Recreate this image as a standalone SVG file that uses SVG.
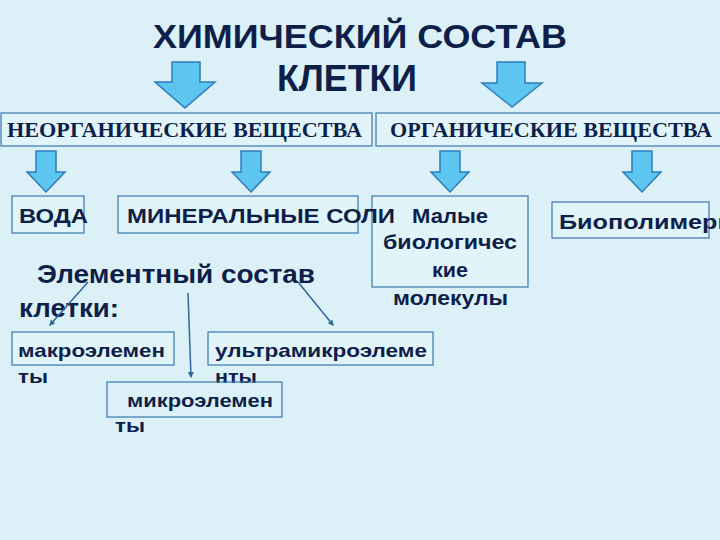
<svg xmlns="http://www.w3.org/2000/svg" width="720" height="540" viewBox="0 0 720 540">
<style>
.bg{fill:#dbf1f7}
.box{fill:#e1f4f9;stroke:#3a76ad;stroke-width:1.2}
.boxo{fill:none;stroke:#3a76ad;stroke-width:1.2}
.arr{fill:#5cc5f0;stroke:#2f7cba;stroke-width:1.5;stroke-linejoin:miter}
.t{font-family:"Liberation Sans",Arial,sans-serif;font-weight:bold;fill:#0e1f4a}
.tm{font-family:"Liberation Serif","Times New Roman",serif;font-weight:bold;fill:#0e1f4a}
.ln{stroke:#2d679c;stroke-width:1.5;fill:none}
</style>
<defs>
<marker id="ah" viewBox="0 0 10 10" refX="8" refY="5" markerWidth="4" markerHeight="4" orient="auto">
<path d="M0,0 L10,5 L0,10 z" fill="#2d679c"/>
</marker>
</defs>
<rect class="bg" x="0" y="0" width="720" height="540"/>

<g id="title">
<text class="t" x="360" y="48" font-size="34" text-anchor="middle" textLength="414" lengthAdjust="spacingAndGlyphs" fill="#0b2256">ХИМИЧЕСКИЙ СОСТАВ</text>
<text class="t" x="347" y="91" font-size="36" text-anchor="middle" textLength="140" lengthAdjust="spacingAndGlyphs" fill="#0b2256">КЛЕТКИ</text>
</g>

<g id="big-arrows">
<path class="arr" d="M172,62 H200 V82 H215 L185,108 L155,82 H172 Z"/>
<path class="arr" d="M497,62 H525 V83 H542 L512,107 L482,83 H497 Z"/>
</g>

<g id="inorganic">
<rect class="box" x="1" y="113" width="371" height="33"/>
<text class="tm" x="7" y="137" font-size="21" textLength="355" lengthAdjust="spacingAndGlyphs">НЕОРГАНИЧЕСКИЕ ВЕЩЕСТВА</text>
</g>
<g id="organic">
<rect class="box" x="376" y="113" width="350" height="33"/>
<text class="tm" x="390" y="137" font-size="21" textLength="322" lengthAdjust="spacingAndGlyphs">ОРГАНИЧЕСКИЕ ВЕЩЕСТВА</text>
</g>

<g id="small-arrows">
<path class="arr" d="M36,151 H56 V172 H65 L46,192 L27,172 H36 Z"/>
<path class="arr" d="M241,151 H261 V172 H270 L251,192 L232,172 H241 Z"/>
<path class="arr" d="M440,151 H460 V172 H469 L450,192 L431,172 H440 Z"/>
<path class="arr" d="M632,151 H652 V172 H661 L642,192 L623,172 H632 Z"/>
</g>

<g id="voda">
<rect class="box" x="12" y="196" width="72" height="37"/>
<text class="t" x="19" y="223" font-size="21" textLength="69" lengthAdjust="spacingAndGlyphs">ВОДА</text>
</g>
<g id="small-molecules">
<rect class="box" x="372" y="196" width="156" height="91"/>
<text class="t" x="412" y="223" font-size="20" textLength="76" lengthAdjust="spacingAndGlyphs">Малые</text>
<text class="t" x="383" y="249" font-size="20" textLength="134" lengthAdjust="spacingAndGlyphs">биологичес</text>
<text class="t" x="450" y="277" font-size="20" text-anchor="middle" textLength="36" lengthAdjust="spacingAndGlyphs">кие</text>
<text class="t" x="393" y="305" font-size="20" textLength="115" lengthAdjust="spacingAndGlyphs">молекулы</text>
</g>
<g id="mineral">
<rect class="box" x="118" y="196" width="240" height="37"/>
<text class="t" x="127" y="223" font-size="21" textLength="268" lengthAdjust="spacingAndGlyphs">МИНЕРАЛЬНЫЕ СОЛИ</text>
</g>
<g id="biopolymers">
<rect class="box" x="552" y="202" width="157" height="36"/>
<text class="t" x="559" y="229" font-size="21" textLength="180" lengthAdjust="spacingAndGlyphs">Биополимеры</text>
</g>

<g id="elemental">
<text class="t" x="37" y="283" font-size="25" textLength="278" lengthAdjust="spacingAndGlyphs">Элементный состав</text>
<text class="t" x="19" y="317" font-size="25" textLength="100" lengthAdjust="spacingAndGlyphs">клетки:</text>
</g>

<g id="connectors">
<line class="ln" x1="88" y1="282" x2="50" y2="325" marker-end="url(#ah)"/>
<line class="ln" x1="188" y1="293" x2="191" y2="377" marker-end="url(#ah)"/>
<line class="ln" x1="298" y1="282" x2="333" y2="325" marker-end="url(#ah)"/>
</g>

<g id="macro">
<rect class="box" x="12" y="332" width="162" height="33"/>
<text class="t" x="18" y="357" font-size="19" textLength="147" lengthAdjust="spacingAndGlyphs">макроэлемен</text>
<text class="t" x="18" y="383" font-size="19" textLength="30" lengthAdjust="spacingAndGlyphs">ты</text>
</g>
<g id="ultra">
<rect class="box" x="208" y="332" width="225" height="33"/>
<text class="t" x="215" y="357" font-size="19" textLength="212" lengthAdjust="spacingAndGlyphs">ультрамикроэлеме</text>
<text class="t" x="215" y="383" font-size="19" textLength="42" lengthAdjust="spacingAndGlyphs">нты</text>
</g>
<g id="micro">
<rect class="boxo" x="107" y="382" width="175" height="35"/>
<text class="t" x="127" y="407" font-size="19" textLength="146" lengthAdjust="spacingAndGlyphs">микроэлемен</text>
<text class="t" x="115" y="432" font-size="19" textLength="30" lengthAdjust="spacingAndGlyphs">ты</text>
</g>
</svg>
